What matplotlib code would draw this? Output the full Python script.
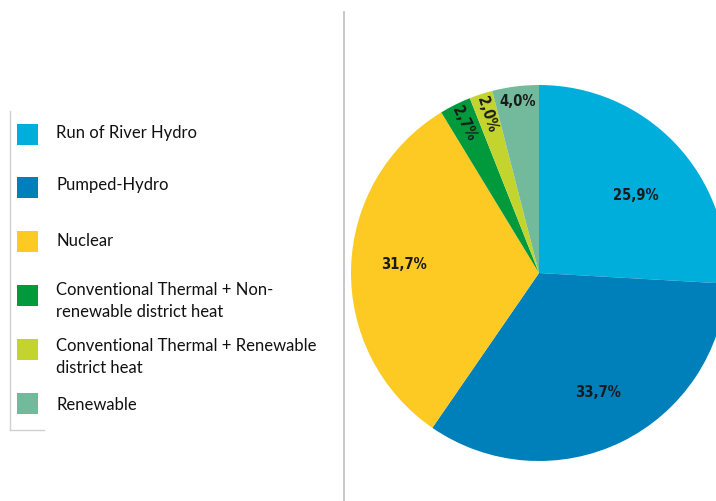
import numpy as np
import matplotlib
matplotlib.use('Agg')
import matplotlib.pyplot as plt
from matplotlib.patches import Rectangle
from matplotlib.lines import Line2D

labels = ['Run of River Hydro', 'Pumped-Hydro', 'Nuclear',
          'Conventional Thermal + Non-\nrenewable district heat',
          'Conventional Thermal + Renewable\ndistrict heat',
          'Renewable']
shares = [25.9, 33.7, 31.7, 2.7, 2.0, 4.0]
colors = ['#00aedb', '#0080ba', '#fcca22', '#009a3d', '#c3d42f', '#72ba9b']
pct_text = ['25,9%', '33,7%', '31,7%', '2,7%', '2,0%', '4,0%']

W, H = 716, 501
fig = plt.figure(figsize=(W / 100, H / 100), dpi=100)

# pie axes: centre (539, 273) px, radius 188 px
cx, cy, r = 539, 273, 188
ax = fig.add_axes([(cx - r) / W, (H - cy - r) / H, 2 * r / W, 2 * r / H])
wedges, _ = ax.pie(shares, colors=colors, startangle=90, counterclock=False,
                   radius=1, wedgeprops=dict(linewidth=0))
ax.set_xlim(-1, 1)
ax.set_ylim(-1, 1)
ax.set_aspect('equal')
ax.axis('off')

label_dist = [0.66, 0.71, 0.72, 0.89, 0.89, 0.92]
ang_shift = [-4.5, 0, -2, 0, 0, 0]
rotate = [False, False, False, True, True, False]
for w, txt, d, da, rot in zip(wedges, pct_text, label_dist, ang_shift, rotate):
    ang = (w.theta1 + w.theta2) / 2 + da
    x = d * np.cos(np.radians(ang))
    y = d * np.sin(np.radians(ang))
    ax.text(x, y, txt, ha='center', va='center', fontsize=10.5, fontweight='bold',
            family='DejaVu Sans', fontstretch='condensed', color='#1a1a1a',
            rotation=(ang - 180) if rot else 0, rotation_mode='anchor')

# separator line
fig.add_artist(Line2D([344 / W, 344 / W], [0, 1 - 12 / H], color='#bdbdbd', lw=1.2))

# legend frame (left + bottom edge)
fig.add_artist(Line2D([10 / W, 10 / W], [1 - 111 / H, 1 - 430 / H], color='#d0d0d0', lw=1))
fig.add_artist(Line2D([10 / W, 44 / W], [1 - 430 / H, 1 - 430 / H], color='#d0d0d0', lw=1))

# legend entries
box_y = [134, 187, 241, 295, 349, 403]
text_y = [133, 185, 241, 301, 357, 405]
for lab, col, by, ty in zip(labels, colors, box_y, text_y):
    fig.add_artist(Rectangle((17 / W, 1 - (by + 10.5) / H), 21 / W, 21 / H,
                             facecolor=col, edgecolor='none'))
    fig.text(56 / W, 1 - ty / H, lab, ha='left', va='center', fontsize=12,
             family='Lato', color='#111111', linespacing=1.5)

fig.savefig('out.png', dpi=100)
